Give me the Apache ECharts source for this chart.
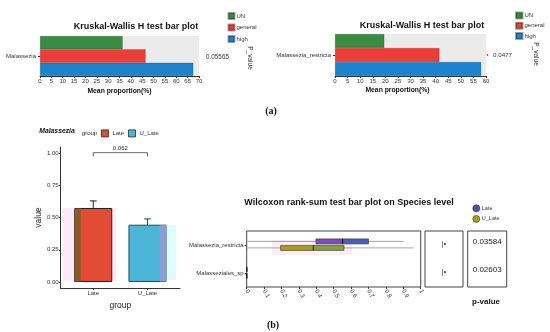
<!DOCTYPE html>
<html><head><meta charset="utf-8">
<script src="https://cdn.jsdelivr.net/npm/echarts@6/dist/echarts.min.js"></script>
<style>html,body{margin:0;padding:0;background:#fff}#c{width:550px;height:332px}</style>
</head><body><div id="c"></div>
<script>
// ---------- data ----------
const kwGroups = ['UN', 'general', 'high'];
const kwColors = ['#3b8b43', '#ee3d36', '#1c84cf'];
const kwCat1 = ['Malassezia'];
const kwVal1 = [36.4, 46.5, 67.5];
const kwP1 = '0.05565';
const kwCat2 = ['Malassezia_restricta'];
const kwVal2 = [19.6, 41.5, 58.1];
const kwP2 = '0.0477';

const grpNames = ['Late', 'U_Late'];
const grpMean = [0.575, 0.445];
const grpUpper = [0.63, 0.49];
const grpTicks = [0, 0.25, 0.5, 0.75, 1];
const bracketP = '0.062';

const species = ['Malassezia_restricta', 'Malasseziales_sp'];
const boxLate = [[0.005, 0.398, 0.551, 0.700, 0.900], [0, 0, 0, 0.002, 0.004]];
const boxULate = [[0.005, 0.195, 0.383, 0.559, 0.958], [0, 0, 0, 0.002, 0.004]];
const wilcoxP = ['0.03584', '0.02603'];

// ---------- helpers ----------
const FF = 'Liberation Sans, Arial, sans-serif';
function txt(x, y, text, size, o) {
  o = o || {};
  return {
    type: 'text', x: x, y: y, rotation: o.rot || 0, z: 50,
    style: {
      text: text, fontSize: size, fontWeight: o.bold ? 'bold' : 'normal',
      fontStyle: o.italic ? 'italic' : 'normal', fontFamily: o.ff || FF,
      fill: o.color || '#222', align: o.align || 'center', verticalAlign: 'middle'
    }
  };
}
const axisBase = {
  axisLine: { show: true, lineStyle: { color: '#333', width: 1 } },
  axisTick: { show: true, length: 2, lineStyle: { color: '#333' } },
  splitLine: { show: false },
  axisLabel: { fontSize: 6, color: '#333', margin: 2, fontFamily: FF }
};
const catTick = { show: true, length: 2, alignWithLabel: true, lineStyle: { color: '#333' } };
function merge(a, b) { return Object.assign({}, a, b); }

const boxRows = [];
species.forEach((s, i) => {
  boxRows.push([i, 0].concat(boxLate[i]));
  boxRows.push([i, 1].concat(boxULate[i]));
});
const boxColors = [['#7a4cc0', '#4b5dbf'], ['#a89c1c', '#87a234']];

const chart = echarts.init(document.getElementById('c'), null, { renderer: 'canvas' });

const legTxt = (s) => ({ fontSize: s, color: '#333', padding: [0, 0, 0, -3] });
const option = {
  animation: false,
  backgroundColor: '#fff',
  textStyle: { fontFamily: FF },
  legend: [
    { orient: 'vertical', left: 227.5, top: 12, padding: 0, itemWidth: 6, itemHeight: 6, itemGap: 3.5, icon: 'rect',
      selectedMode: false, data: kwGroups, textStyle: legTxt(6) },
    { orient: 'vertical', left: 515, top: 11.5, padding: 0, itemWidth: 6.5, itemHeight: 6, itemGap: 2.2, icon: 'rect',
      selectedMode: false, data: kwGroups, textStyle: legTxt(6) },
    { orient: 'horizontal', left: 101, top: 129.5, padding: 0, itemWidth: 7, itemHeight: 7, itemGap: 4, icon: 'rect',
      selectedMode: false, textStyle: { fontSize: 6, color: '#333', padding: [0, 0, 0, -1] },
      data: [
        { name: 'Late', itemStyle: { color: '#e24b35', borderColor: '#222', borderWidth: 0.8 } },
        { name: 'U_Late', itemStyle: { color: '#4db6d8', borderColor: '#222', borderWidth: 0.8 } }
      ] },
    { orient: 'vertical', left: 472.5, top: 204.5, padding: 0, itemWidth: 7, itemHeight: 7, itemGap: 3, icon: 'circle',
      selectedMode: false, textStyle: { fontSize: 5.5, color: '#333', padding: [0, 0, 0, -3] },
      data: [
        { name: 'Late', itemStyle: { color: '#5352b3', borderColor: '#333', borderWidth: 0.6 } },
        { name: 'U_Late', itemStyle: { color: '#a9a21e', borderColor: '#333', borderWidth: 0.6 } }
      ] }
  ],
  grid: [
    { left: 40, top: 36, width: 159, height: 40, show: true, backgroundColor: '#ebebeb', borderWidth: 0 },
    { left: 335, top: 34, width: 151, height: 42, show: true, backgroundColor: '#ebebeb', borderWidth: 0 },
    { left: 60.7, top: 147, width: 119.3, height: 141 },
    { left: 246.7, top: 231, width: 174, height: 56, show: true, borderColor: '#444', borderWidth: 1, backgroundColor: 'transparent' },
    { left: 425, top: 231, width: 38, height: 56, show: true, borderColor: '#444', borderWidth: 1, backgroundColor: 'transparent' },
    { left: 467.7, top: 231, width: 39, height: 56, show: true, borderColor: '#444', borderWidth: 1, backgroundColor: 'transparent' }
  ],
  xAxis: [
    merge(axisBase, { gridIndex: 0, type: 'value', min: 0, max: 70, interval: 5,
      name: 'Mean proportion(%)', nameLocation: 'middle', nameGap: 12,
      nameTextStyle: { fontSize: 6.8, fontWeight: 'bold', color: '#111' } }),
    merge(axisBase, { gridIndex: 1, type: 'value', min: 0, max: 60, interval: 5,
      name: 'Mean proportion(%)', nameLocation: 'middle', nameGap: 11,
      nameTextStyle: { fontSize: 6.8, fontWeight: 'bold', color: '#111', padding: [0, 26, 0, 0] } }),
    merge(axisBase, { gridIndex: 2, type: 'value', min: 0.4, max: 2.6,
      axisLine: { show: true, onZero: false, lineStyle: { color: '#333', width: 1 } },
      axisTick: { show: true, length: 2, customValues: [1, 2], lineStyle: { color: '#333' } },
      axisLabel: { fontSize: 6, color: '#333', margin: 2, customValues: [1, 2],
        formatter: v => grpNames[Math.round(v) - 1] || '' },
      name: 'group', nameLocation: 'middle', nameGap: 13,
      nameTextStyle: { fontSize: 8.5, color: '#222' } }),
    merge(axisBase, { gridIndex: 3, type: 'value', min: 0, max: 1, interval: 0.1,
      axisLine: { show: false },
      axisLabel: { fontSize: 6, color: '#333', margin: 3, rotate: -60 } }),
    { gridIndex: 4, type: 'value', min: 0, max: 1, show: false },
    { gridIndex: 5, type: 'value', min: 0, max: 1, show: false }
  ],
  yAxis: [
    merge(axisBase, { gridIndex: 0, type: 'category', data: kwCat1, axisLine: { show: false },
      axisTick: catTick, axisLabel: { fontSize: 6, color: '#333', margin: 4 } }),
    merge(axisBase, { gridIndex: 1, type: 'category', data: kwCat2, axisLine: { show: false },
      axisTick: catTick, axisLabel: { fontSize: 6, color: '#333', margin: 4 } }),
    merge(axisBase, { gridIndex: 2, type: 'value', min: -0.047, max: 1.049,
      axisLine: { show: true, onZero: false, lineStyle: { color: '#333', width: 1 } },
      axisTick: { show: true, length: 2, customValues: grpTicks, lineStyle: { color: '#333' } },
      axisLabel: { fontSize: 6, color: '#333', margin: 2, customValues: grpTicks,
        formatter: v => v.toFixed(2) },
      name: 'value', nameLocation: 'middle', nameGap: 18, nameRotate: 90,
      nameTextStyle: { fontSize: 8.5, color: '#222' } }),
    merge(axisBase, { gridIndex: 3, type: 'category', data: species, inverse: true,
      axisLine: { show: false }, axisTick: catTick, axisLabel: { fontSize: 6, color: '#333', margin: 3 } }),
    { gridIndex: 4, type: 'category', data: species, inverse: true, show: false },
    { gridIndex: 5, type: 'category', data: species, inverse: true, show: false }
  ],
  series: [].concat(
    kwGroups.map((g, i) => ({
      name: g, type: 'bar', xAxisIndex: 0, yAxisIndex: 0, data: [kwVal1[i]],
      barGap: 0, barCategoryGap: 0,
      itemStyle: { color: kwColors[i], borderColor: 'rgba(0,0,0,0.35)', borderWidth: 0.5 }
    })),
    kwGroups.map((g, i) => ({
      name: g, type: 'bar', xAxisIndex: 1, yAxisIndex: 1, data: [kwVal2[i]],
      barGap: 0, barCategoryGap: 0,
      itemStyle: { color: kwColors[i], borderColor: 'rgba(0,0,0,0.35)', borderWidth: 0.5 }
    })),
    [
      // haze behind bars (bottom-left)
      { type: 'custom', xAxisIndex: 2, yAxisIndex: 2, z: 1, silent: true,
        data: [[0.44, 0.01, 1.42, 0.575, 0], [1.9, 0.015, 2.53, 0.445, 1]],
        encode: { x: [0, 2], y: [1, 3] },
        renderItem: (p, api) => {
          const a = api.coord([api.value(0), api.value(3)]);
          const b = api.coord([api.value(2), api.value(1)]);
          return { type: 'rect', shape: { x: a[0], y: a[1], width: b[0] - a[0], height: b[1] - a[1] },
            style: { fill: api.value(4) === 0 ? '#fde9f8' : '#defcfc' } };
        } },
      { name: 'Late', type: 'bar', xAxisIndex: 2, yAxisIndex: 2, z: 2, barWidth: 38, barGap: '-100%',
        data: [[1, grpMean[0]]],
        itemStyle: { color: '#e24b35', borderColor: '#222', borderWidth: 1 } },
      { name: 'U_Late', type: 'bar', xAxisIndex: 2, yAxisIndex: 2, z: 2, barWidth: 38, barGap: '-100%',
        data: [[2, grpMean[1]]],
        itemStyle: { color: '#4db6d8', borderColor: '#1e4d55', borderWidth: 1 } },
      // strips + error bars
      { type: 'custom', xAxisIndex: 2, yAxisIndex: 2, z: 3, silent: true,
        data: grpNames.map((g, i) => [i + 1, grpMean[i], grpUpper[i]]),
        encode: { x: 0, y: [1, 2] },
        renderItem: (p, api) => {
          const x = api.value(0);
          const pm = api.coord([x, api.value(1)]);
          const pu = api.coord([x, api.value(2)]);
          const base = api.coord([x, 0])[1];
          const i = p.dataIndex;
          const col = i === 0 ? '#222' : '#1e4d55';
          const strip = i === 0
            ? { type: 'rect', shape: { x: pm[0] - 18.5, y: pm[1] + 0.5, width: 6, height: base - pm[1] - 1 }, style: { fill: '#8b5a2b' } }
            : { type: 'rect', shape: { x: pm[0] + 12.3, y: pm[1] + 0.5, width: 6.2, height: base - pm[1] - 1 }, style: { fill: '#8e9dd6' } };
          return { type: 'group', children: [
            strip,
            { type: 'line', shape: { x1: pm[0], y1: pm[1], x2: pu[0], y2: pu[1] }, style: { stroke: col, lineWidth: 1 } },
            { type: 'line', shape: { x1: pu[0] - 3.4, y1: pu[1], x2: pu[0] + 3.4, y2: pu[1] }, style: { stroke: col, lineWidth: 1 } }
          ] };
        } },
      // significance bracket
      { type: 'custom', xAxisIndex: 2, yAxisIndex: 2, z: 3, silent: true,
        data: [[1, 2, 1.005, 0.975]],
        encode: { x: [0, 1], y: [2, 3] },
        renderItem: (p, api) => {
          const x1 = api.value(0), x2 = api.value(1), yt = api.value(2), yb = api.value(3);
          const a = api.coord([x1, yb]), b = api.coord([x1, yt]), c = api.coord([x2, yt]), d = api.coord([x2, yb]);
          return { type: 'group', children: [
            { type: 'polyline', shape: { points: [a, b, c, d] }, style: { stroke: '#444', lineWidth: 0.8, fill: null } },
            { type: 'text', x: (b[0] + c[0]) / 2, y: b[1] - 4,
              style: { text: bracketP, fontSize: 6, fill: '#222', align: 'center', verticalAlign: 'middle', fontFamily: FF } }
          ] };
        } },
      // haze in wilcoxon panel
      { type: 'custom', xAxisIndex: 3, yAxisIndex: 3, z: 1, silent: true,
        data: [[0.145, 0.605, 0]],
        encode: { x: [0, 1], y: 2 },
        renderItem: (p, api) => {
          const a = api.coord([api.value(0), 0]);
          const b = api.coord([api.value(1), 0]);
          return { type: 'rect', shape: { x: a[0], y: a[1] - 5, width: b[0] - a[0], height: 15 },
            style: { fill: '#fdeef6' } };
        } },
      // boxes
      { type: 'custom', xAxisIndex: 3, yAxisIndex: 3, z: 3, silent: true,
        data: boxRows, encode: { x: [2, 3, 4, 5, 6], y: 0 },
        renderItem: (p, api) => {
          const ci = api.value(0), g = api.value(1);
          const v = [2, 3, 4, 5, 6].map(d => api.value(d));
          const yc = api.coord([0, ci])[1] + (g === 0 ? -3.6 : 2.9);
          const px = v.map(val => api.coord([val, ci])[0]);
          const h = 5, y0 = yc - h / 2;
          const cols = boxColors[g];
          return { type: 'group', children: [
            { type: 'line', shape: { x1: px[0], y1: yc, x2: px[4], y2: yc }, style: { stroke: '#666', lineWidth: 0.6 } },
            { type: 'rect', shape: { x: px[1], y: y0, width: px[2] - px[1], height: h }, style: { fill: cols[0] } },
            { type: 'rect', shape: { x: px[2], y: y0, width: px[3] - px[2], height: h }, style: { fill: cols[1] } },
            { type: 'rect', shape: { x: px[1], y: y0, width: px[3] - px[1], height: h }, style: { fill: null, stroke: '#333', lineWidth: 0.6 } },
            { type: 'line', shape: { x1: px[2], y1: y0, x2: px[2], y2: y0 + h }, style: { stroke: '#111', lineWidth: 1 } }
          ] };
        } },
      // significance marks
      { type: 'custom', xAxisIndex: 4, yAxisIndex: 4, z: 3, silent: true,
        data: species.map((s, i) => [0.5, i]), encode: { x: 0, y: 1 },
        renderItem: (p, api) => {
          const c = api.coord([api.value(0), api.value(1)]);
          return { type: 'text', x: c[0], y: c[1] - 1,
            style: { text: '|•', fontSize: 7, fill: '#333', align: 'center', verticalAlign: 'middle', fontFamily: FF } };
        } },
      // p-values
      { type: 'custom', xAxisIndex: 5, yAxisIndex: 5, z: 3, silent: true,
        data: species.map((s, i) => [0.5, i, i]), encode: { x: 0, y: 1 },
        renderItem: (p, api) => {
          const c = api.coord([api.value(0), api.value(1)]);
          return { type: 'text', x: c[0], y: c[1] - 3,
            style: { text: wilcoxP[api.value(2)], fontSize: 8, fill: '#222', align: 'center', verticalAlign: 'middle', fontFamily: FF } };
        } }
    ]
  ),
  graphic: [
    txt(136, 27, 'Kruskal-Wallis H test bar plot', 9, { bold: true, color: '#111' }),
    txt(422, 26, 'Kruskal-Wallis H test bar plot', 9, { bold: true, color: '#111' }),
    txt(217.5, 57, kwP1, 6.3, { color: '#333' }),
    txt(502.5, 55, kwP2, 6.2, { color: '#333' }),
    { type: 'circle', shape: { cx: 487.5, cy: 55, r: 0.9 }, style: { fill: '#e33' }, z: 50 },
    txt(250, 58, 'P_value', 6.5, { rot: -Math.PI / 2, color: '#333' }),
    txt(536, 54, 'P_value', 6.5, { rot: -Math.PI / 2, color: '#333' }),
    txt(271, 111, '(a)', 10, { bold: true, ff: 'Liberation Serif, Times New Roman, serif', color: '#111' }),
    txt(273, 325, '(b)', 10, { bold: true, ff: 'Liberation Serif, Times New Roman, serif', color: '#111' }),
    txt(57, 131, 'Malassezia', 6.8, { bold: true, italic: true, color: '#111' }),
    txt(89.5, 133, 'group', 6, { color: '#222' }),
    txt(349, 203, 'Wilcoxon rank-sum test bar plot on Species level', 9, { bold: true, color: '#111' }),
    txt(486, 302, 'p-value', 8, { bold: true, color: '#111' })
  ]
};
chart.setOption(option);
</script>
</body></html>
